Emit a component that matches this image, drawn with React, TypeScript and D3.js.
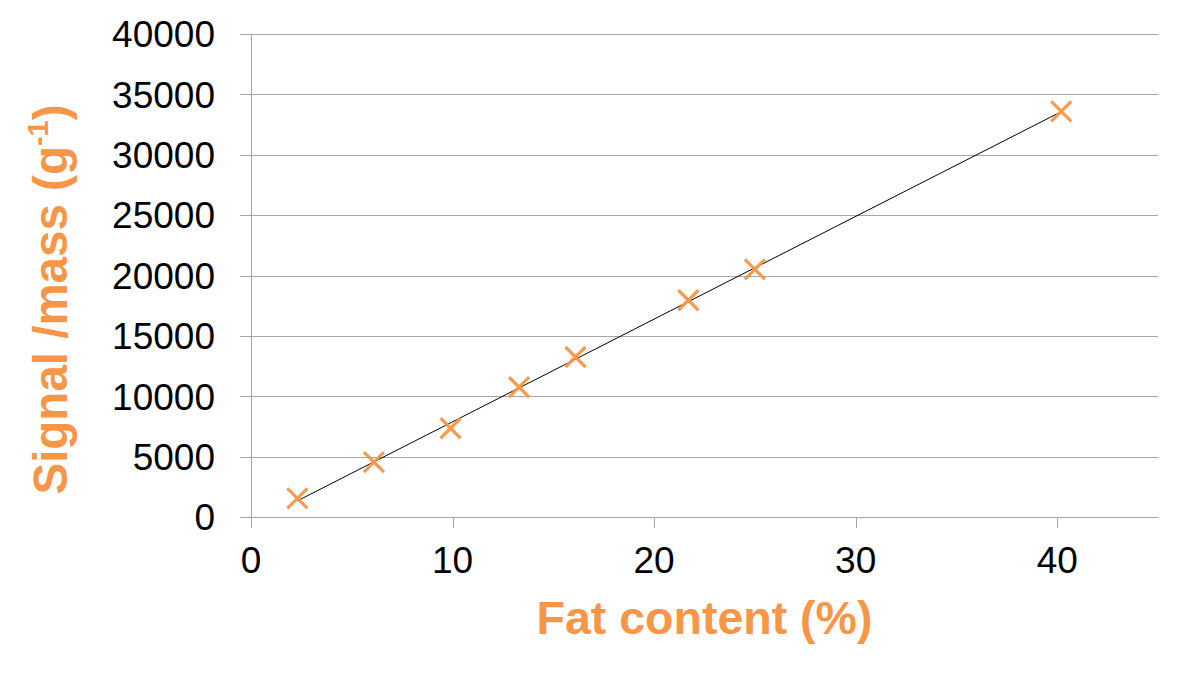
import * as d3 from "d3";

// fat content (%) and measured signal per gram
const fatContent = [2.3, 6.1, 9.9, 13.3, 16.1, 21.7, 25.0, 40.2];
const signalPerMass = [1550, 4550, 7350, 10750, 13250, 17950, 20500, 33600];

const xTicks = [0, 10, 20, 30, 40];
const yTicks = [0, 5000, 10000, 15000, 20000, 25000, 30000, 35000, 40000];

const W = 1200;
const H = 677;
const margin = { top: 34, right: 42, bottom: 160, left: 251 };
const orange = "#F79646";
const grid = "#A6A6A6";
const font = "'Liberation Sans', Arial, sans-serif";

const App = () => {
  const x = d3
    .scaleLinear()
    .domain([0, 45])
    .range([margin.left, W - margin.right]);
  const y = d3
    .scaleLinear()
    .domain([0, 40000])
    .range([H - margin.bottom, margin.top]);

  // linear trendline (least squares) through the points
  const mx = d3.mean(fatContent)!;
  const my = d3.mean(signalPerMass)!;
  const sxy = d3.sum(fatContent, (v, i) => (v - mx) * (signalPerMass[i] - my));
  const sxx = d3.sum(fatContent, (v) => (v - mx) ** 2);
  const slope = sxy / sxx;
  const icpt = my - slope * mx;
  const x0 = d3.min(fatContent)!;
  const x1 = d3.max(fatContent)!;
  const trend = d3.line<number>()
    .x((d) => x(d))
    .y((d) => y(icpt + slope * d))([x0, x1]);

  const pts = fatContent.map((v, i) => ({ fx: v, sy: signalPerMass[i] }));
  const s = 10;

  return (
    <svg
      width={W}
      height={H}
      style={{ position: "absolute", left: 0, top: 0, background: "#fff" }}
      fontFamily={font}
    >
      {yTicks.map((t) => (
        <g key={t}>
          <line
            x1={margin.left - 11}
            x2={W - margin.right}
            y1={Math.round(y(t)) + 0.5}
            y2={Math.round(y(t)) + 0.5}
            stroke={grid}
            strokeWidth={1}
          />
          <text
            x={margin.left - 36}
            y={y(t)}
            dy="0.36em"
            textAnchor="end"
            fontSize={37}
            fill="#000"
          >
            {t}
          </text>
        </g>
      ))}
      <line
        x1={margin.left + 0.5}
        x2={margin.left + 0.5}
        y1={y(40000)}
        y2={y(0)}
        stroke={grid}
      />
      {xTicks.map((t) => (
        <g key={t}>
          <line
            x1={Math.round(x(t)) + 0.5}
            x2={Math.round(x(t)) + 0.5}
            y1={y(0)}
            y2={y(0) + 11}
            stroke={grid}
          />
          <text
            x={x(t)}
            y={y(0) + 56}
            textAnchor="middle"
            fontSize={37}
            fill="#000"
          >
            {t}
          </text>
        </g>
      ))}
      <path d={trend ?? ""} fill="none" stroke="#000" strokeWidth={1} />
      {pts.map((p, i) => (
        <g key={i} stroke={orange} strokeWidth={3.2} opacity={0.95}>
          <line x1={x(p.fx) - s} y1={y(p.sy) - s} x2={x(p.fx) + s} y2={y(p.sy) + s} />
          <line x1={x(p.fx) - s} y1={y(p.sy) + s} x2={x(p.fx) + s} y2={y(p.sy) - s} />
        </g>
      ))}
      <text
        x={(x(0) + x(45)) / 2}
        y={634}
        textAnchor="middle"
        fontSize={46.5}
        fontWeight="bold"
        fill={orange}
      >
        Fat content (%)
      </text>
      <text
        transform={`translate(67, ${y(20000) + 24}) rotate(-90)`}
        textAnchor="middle"
        fontSize={47.5}
        fontWeight="bold"
        fill={orange}
      >
        Signal /mass (g
        <tspan fontSize={29} dy={-19}>-1</tspan>
        <tspan dy={19}>)</tspan>
      </text>
    </svg>
  );
};

export default App;
